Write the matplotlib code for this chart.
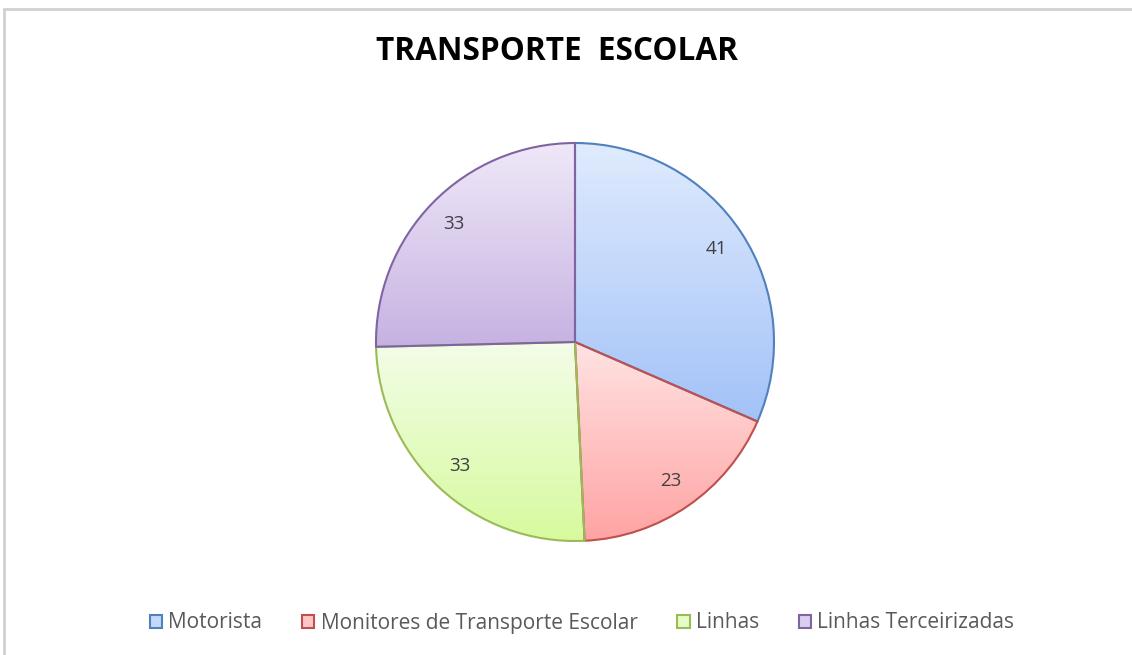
import matplotlib
matplotlib.use('Agg')
import matplotlib.pyplot as plt
from matplotlib.colors import LinearSegmentedColormap
from matplotlib.patches import Patch, Rectangle
import numpy as np

# data
categories = ['Motorista', 'Monitores de Transporte Escolar', 'Linhas', 'Linhas Terceirizadas']
values = [41, 23, 33, 33]

# styles: (top colour, bottom colour, edge colour)
tops = ['#e0ebfd', '#ffe3e3', '#f3fde8', '#efe8f8']
bottoms = ['#a3c2f8', '#ffa3a3', '#d7fa9e', '#c6b2e2']
edges = ['#4f81bd', '#c0504d', '#9bbb59', '#8064a2']

W, H = 1132, 655
fig = plt.figure(figsize=(W / 100, H / 100), dpi=100)
fig.patch.set_facecolor('white')

# light chart frame (top and left edges visible)
frame = Rectangle((4 / W, -0.1), 1.2, (H - 9) / H + 0.1, transform=fig.transFigure,
                  fill=False, edgecolor='#d0d0d0', linewidth=2.0)
fig.patches.append(frame)

# pie axes placed in pixels
cx, cy, R = 575, 342, 200
ax = fig.add_axes([(cx - R) / W, (H - cy - R) / H, 2 * R / W, 2 * R / H])
ax.set_axis_off()

wedges, texts = ax.pie(values, startangle=90, counterclock=False, radius=0.995,
                       labels=[str(v) for v in values], labeldistance=0.85,
                       wedgeprops=dict(linewidth=1.5, facecolor='none'),
                       textprops=dict(fontsize=13.5, color='#404040', family='Open Sans'))

for w, t, b, e in zip(wedges, tops, bottoms, edges):
    w.set_edgecolor(e)
    w.set_zorder(3)
    ext = w.get_path().get_extents()
    cmap = LinearSegmentedColormap.from_list('g', [t, b])
    grad = np.linspace(0, 1, 256).reshape(-1, 1)
    im = ax.imshow(grad, cmap=cmap, aspect='auto', origin='upper',
                   extent=(ext.x0, ext.x1, ext.y0, ext.y1), zorder=2)
    im.set_clip_path(w)

for t in texts:
    t.set_zorder(5)
    t.set_ha('center')
    t.set_va('center')

ax.set_xlim(-1, 1)
ax.set_ylim(-1, 1)

fig.text(557 / W, 1 - 52 / H, 'TRANSPORTE  ESCOLAR', ha='center', va='center',
         fontsize=22.7, fontweight='bold', family='Open Sans', color='black')

handles = [Patch(facecolor=m, edgecolor=e, linewidth=1.5)
           for m, e in zip(['#c4d8fb', '#ffc6c6', '#e6fbc6', '#dbcdef'], edges)]
fig.legend(handles, categories, loc='center', bbox_to_anchor=(582 / W, 1 - 623 / H),
           ncol=4, frameon=False, handlelength=0.6, handleheight=0.6,
           handletextpad=0.3, columnspacing=1.9,
           prop=dict(family='Open Sans', size=15), labelcolor='#595959')

fig.savefig('out.png', dpi=100)
